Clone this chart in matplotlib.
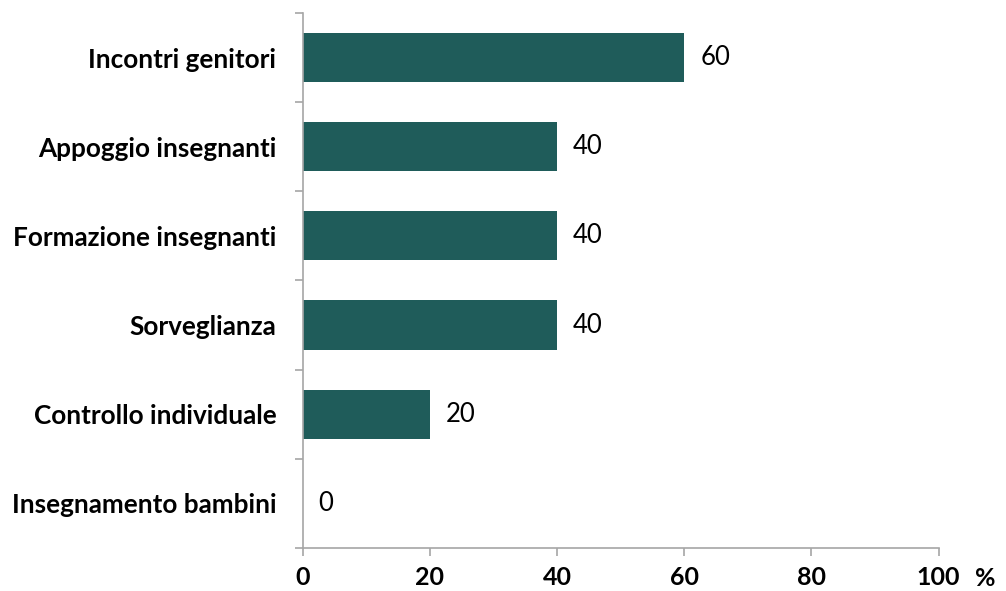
import matplotlib
matplotlib.use("Agg")
import matplotlib.pyplot as plt
import numpy as np

categories = ["Incontri genitori", "Appoggio insegnanti", "Formazione insegnanti",
              "Sorveglianza", "Controllo individuale", "Insegnamento bambini"]
values = [60, 40, 40, 40, 20, 0]
xticks = [0, 20, 40, 60, 80, 100]

plt.rcParams['font.family'] = ['Lato', 'DejaVu Sans']

fig = plt.figure(figsize=(10.06, 5.91), dpi=100)
ax = fig.add_axes([0.301, 0.073, 0.632, 0.905])

n = len(categories)
ypos = np.arange(n)[::-1]
bar_color = "#1f5c5a"
ax.barh(ypos, values, height=0.55, color=bar_color, edgecolor="none")

for y, v in zip(ypos, values):
    ax.text(v + 2.5, y, f"{v}", va="center", ha="left", fontsize=18.5, color="black")

ax.set_xlim(0, 100)
ax.set_ylim(-0.5, n - 0.5)
ax.set_xticks(xticks)
ax.set_xticklabels([str(t) for t in xticks], fontsize=18, fontweight="bold")
ax.set_yticks(ypos)
ax.set_yticklabels(categories, fontsize=18.8, fontweight="bold")
ax.set_yticks(np.arange(-0.5, n, 1.0), minor=True)

spine_color = "#a6a6a6"
for s in ["top", "right"]:
    ax.spines[s].set_visible(False)
for s in ["left", "bottom"]:
    ax.spines[s].set_color(spine_color)
    ax.spines[s].set_linewidth(1.2)

ax.tick_params(axis="y", which="major", length=0, pad=19)
ax.tick_params(axis="y", which="minor", length=6, color=spine_color, width=1.2, direction="out")
ax.tick_params(axis="x", which="major", length=6, color=spine_color, width=1.2, direction="out", pad=7)

fig.text(985 / 1006, 1 - 579 / 591, "%", fontsize=18, fontweight="bold", ha="center", va="center")

fig.savefig("out.png", dpi=100)
